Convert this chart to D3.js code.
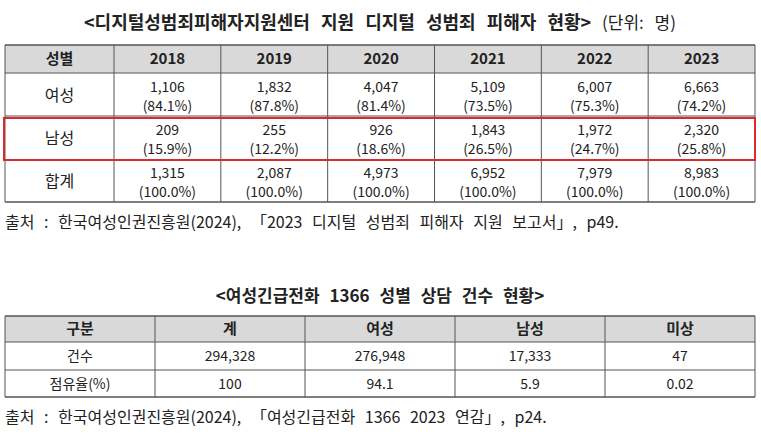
<!DOCTYPE html>
<html><head><meta charset="utf-8">
<script src="https://cdn.jsdelivr.net/npm/d3@7"></script>
<style>body{margin:0;background:#fff}text{font-family:"Noto Sans CJK KR","Noto Sans",sans-serif;fill:#222}</style>
</head><body><div id="chart"></div>
<script>
// table 1 data
const years = ["2018", "2019", "2020", "2021", "2022", "2023"];
const rowLabels1 = ["여성", "남성", "합계"];
const female = ["1,106", "1,832", "4,047", "5,109", "6,007", "6,663"];
const femalePct = ["84.1%", "87.8%", "81.4%", "73.5%", "75.3%", "74.2%"];
const male = ["209", "255", "926", "1,843", "1,972", "2,320"];
const malePct = ["15.9%", "12.2%", "18.6%", "26.5%", "24.7%", "25.8%"];
const total = ["1,315", "2,087", "4,973", "6,952", "7,979", "8,983"];
const totalPct = ["100.0%", "100.0%", "100.0%", "100.0%", "100.0%", "100.0%"];
// table 2 data
const cols2 = ["구분", "계", "여성", "남성", "미상"];
const counts = ["294,328", "276,948", "17,333", "47"];
const shares = ["100", "94.1", "5.9", "0.02"];

const W = 761, H = 441;
const svg = d3.select("#chart").append("svg").attr("width", W).attr("height", H);
const line = "#555";

// ---------- table 1 ----------
svg.append("text").attr("x", 380).attr("y", 29).attr("text-anchor", "middle")
    .style("font-size", "18px").style("font-weight", "bold").style("word-spacing", "7px")
    .text("<디지털성범죄피해자지원센터 지원 디지털 성범죄 피해자 현황>")
    .append("tspan").style("font-weight", "normal").style("font-size", "17px").text(" (단위: 명)");

const x1 = d3.scaleLinear().domain([0, 1]).range([114, 755]);
const colEdges1 = [5].concat(d3.range(7).map(i => x1(i / 6)));
const rowEdges1 = [45, 73, 116, 160, 202];
const t1 = svg.append("g");

t1.append("rect").attr("x", 5).attr("y", 45).attr("width", 750).attr("height", 28).attr("fill", "#d9d9d9");
rowEdges1.forEach((y, i) => t1.append("line").attr("x1", 5).attr("x2", 755).attr("y1", y).attr("y2", y)
    .attr("stroke", line).attr("stroke-width", (i === 0 || i === 4) ? 1.5 : 1));
colEdges1.forEach(x => t1.append("line").attr("x1", x).attr("x2", x).attr("y1", 45).attr("y2", 202).attr("stroke", line));

const cx1 = i => (colEdges1[i] + colEdges1[i + 1]) / 2;
["성별"].concat(years).forEach((d, i) => t1.append("text").attr("x", cx1(i)).attr("y", 64)
    .attr("text-anchor", "middle").style("font-size", "15px").style("font-weight", "bold").text(d));

const rows1 = [[female, femalePct], [male, malePct], [total, totalPct]];
rows1.forEach((r, ri) => {
    const top = rowEdges1[ri + 1], bot = rowEdges1[ri + 2], mid = (top + bot) / 2;
    t1.append("text").attr("x", cx1(0)).attr("y", mid + 6).attr("text-anchor", "middle")
        .style("font-size", "16px").text(rowLabels1[ri]);
    years.forEach((y, j) => {
        t1.append("text").attr("x", cx1(j + 1)).attr("y", mid - 3).attr("text-anchor", "middle")
            .style("font-size", "14px").text(r[0][j]);
        t1.append("text").attr("x", cx1(j + 1)).attr("y", mid + 16).attr("text-anchor", "middle")
            .style("font-size", "14px").text("(" + r[1][j] + ")");
    });
});
// highlight box on 남성 row
t1.append("rect").attr("x", 4).attr("y", 118).attr("width", 751).attr("height", 42)
    .attr("fill", "none").attr("stroke", "#d92b2b").attr("stroke-width", 2);

svg.append("text").attr("x", 5).attr("y", 228).style("font-size", "16px").style("word-spacing", "6px")
    .text("출처 : 한국여성인권진흥원(2024), 「2023 디지털 성범죄 피해자 지원 보고서」, p49.");

// ---------- table 2 ----------
svg.append("text").attr("x", 380).attr("y", 302).attr("text-anchor", "middle")
    .style("font-size", "17px").style("font-weight", "bold").style("word-spacing", "6px")
    .text("<여성긴급전화 1366 성별 상담 건수 현황>");

const x2 = d3.scaleBand().domain(cols2).range([5, 755]);
const rowEdges2 = [316, 342, 370, 397];
const t2 = svg.append("g");
t2.append("rect").attr("x", 5).attr("y", 316).attr("width", 750).attr("height", 26).attr("fill", "#d9d9d9");
rowEdges2.forEach((y, i) => t2.append("line").attr("x1", 5).attr("x2", 755).attr("y1", y).attr("y2", y)
    .attr("stroke", line).attr("stroke-width", (i === 0 || i === 3) ? 1.5 : 1));
cols2.concat(["end"]).forEach((c, i) => {
    const x = i < cols2.length ? x2(c) : 755;
    t2.append("line").attr("x1", x).attr("x2", x).attr("y1", 316).attr("y2", 397).attr("stroke", line);
});
const cx2 = c => x2(c) + x2.bandwidth() / 2;
cols2.forEach(c => t2.append("text").attr("x", cx2(c)).attr("y", 334).attr("text-anchor", "middle")
    .style("font-size", "15px").style("font-weight", "bold").text(c));
[["건수", counts], ["점유율(%)", shares]].forEach((r, ri) => {
    const mid = (rowEdges2[ri + 1] + rowEdges2[ri + 2]) / 2;
    t2.append("text").attr("x", cx2(cols2[0])).attr("y", mid + 5).attr("text-anchor", "middle")
        .style("font-size", "14px").text(r[0]);
    r[1].forEach((v, j) => t2.append("text").attr("x", cx2(cols2[j + 1])).attr("y", mid + 5)
        .attr("text-anchor", "middle").style("font-size", "14px").text(v));
});

svg.append("text").attr("x", 5).attr("y", 423).style("font-size", "16px").style("word-spacing", "6px")
    .text("출처 : 한국여성인권진흥원(2024), 「여성긴급전화 1366 2023 연감」, p24.");
</script></body></html>
